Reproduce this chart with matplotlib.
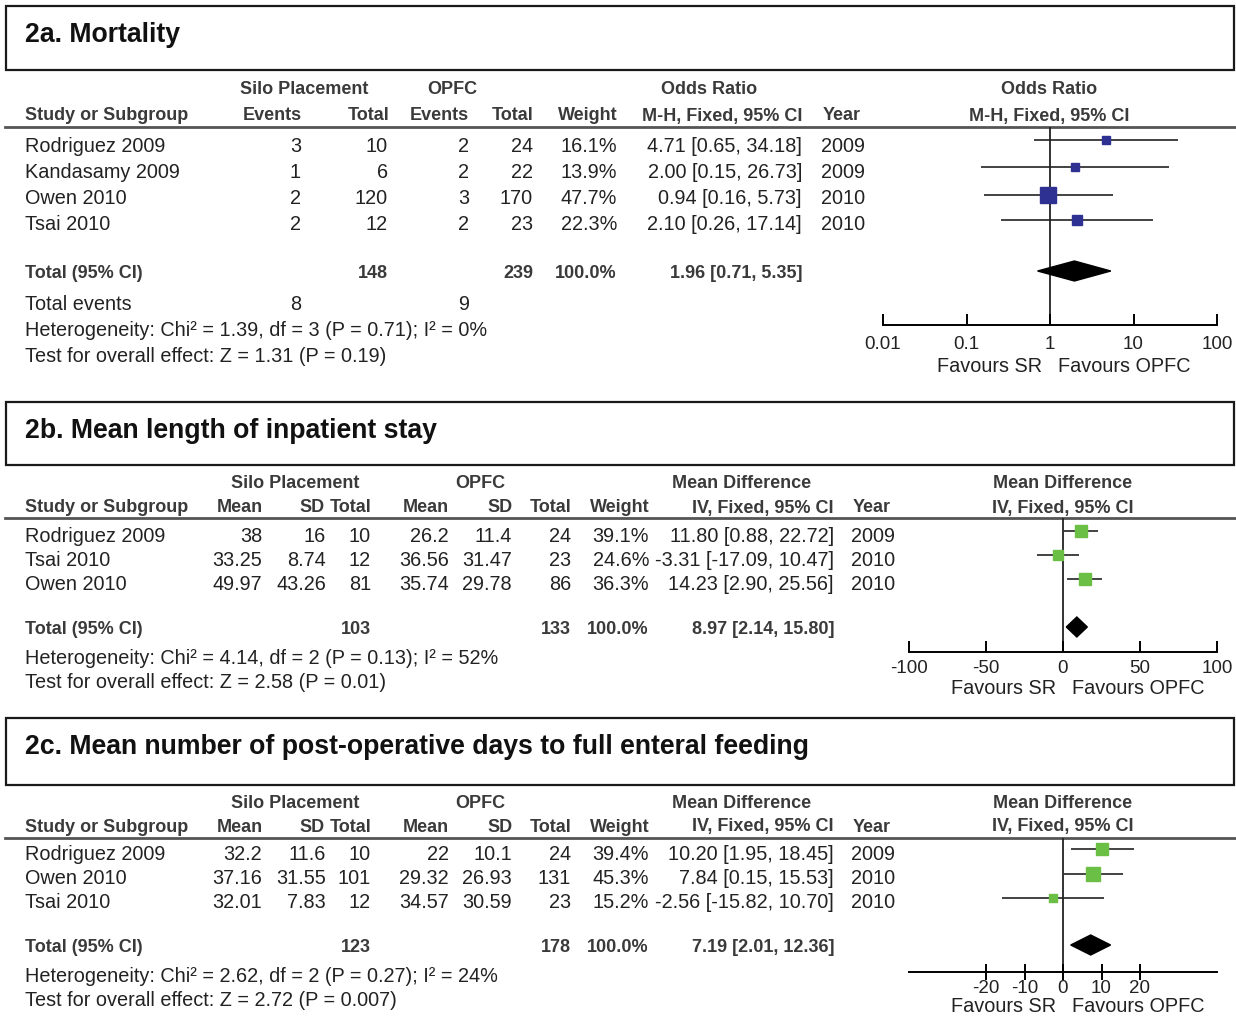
import numpy as np
import matplotlib.pyplot as plt
from matplotlib.font_manager import FontProperties
from matplotlib.textpath import TextToPath
from matplotlib.patches import Rectangle

W, H = 1236, 1030

# ---- 2a. Mortality (odds ratio) ----
mort_studies = ['Rodriguez 2009', 'Kandasamy 2009', 'Owen 2010', 'Tsai 2010']
mort_silo_events = [3, 1, 2, 2]
mort_silo_total = [10, 6, 120, 12]
mort_opfc_events = [2, 2, 3, 2]
mort_opfc_total = [24, 22, 170, 23]
mort_weight = [16.1, 13.9, 47.7, 22.3]
mort_est = [4.71, 2.00, 0.94, 2.10]
mort_lo = [0.65, 0.15, 0.16, 0.26]
mort_hi = [34.18, 26.73, 5.73, 17.14]
mort_year = [2009, 2009, 2010, 2010]
mort_total = [148, 239]
mort_events = [8, 9]
mort_pooled = [1.96, 0.71, 5.35]
mort_het = 'Heterogeneity: Chi² = 1.39, df = 3 (P = 0.71); I² = 0%'
mort_test = 'Test for overall effect: Z = 1.31 (P = 0.19)'

# ---- 2b. Mean length of inpatient stay ----
los_studies = ['Rodriguez 2009', 'Tsai 2010', 'Owen 2010']
los_silo_mean = [38, 33.25, 49.97]
los_silo_sd = [16, 8.74, 43.26]
los_silo_n = [10, 12, 81]
los_opfc_mean = [26.2, 36.56, 35.74]
los_opfc_sd = [11.4, 31.47, 29.78]
los_opfc_n = [24, 23, 86]
los_weight = [39.1, 24.6, 36.3]
los_est = [11.80, -3.31, 14.23]
los_lo = [0.88, -17.09, 2.90]
los_hi = [22.72, 10.47, 25.56]
los_year = [2009, 2010, 2010]
los_total = [103, 133]
los_pooled = [8.97, 2.14, 15.80]
los_het = 'Heterogeneity: Chi² = 4.14, df = 2 (P = 0.13); I² = 52%'
los_test = 'Test for overall effect: Z = 2.58 (P = 0.01)'

# ---- 2c. Days to full enteral feeding ----
feed_studies = ['Rodriguez 2009', 'Owen 2010', 'Tsai 2010']
feed_silo_mean = [32.2, 37.16, 32.01]
feed_silo_sd = [11.6, 31.55, 7.83]
feed_silo_n = [10, 101, 12]
feed_opfc_mean = [22, 29.32, 34.57]
feed_opfc_sd = [10.1, 26.93, 30.59]
feed_opfc_n = [24, 131, 23]
feed_weight = [39.4, 45.3, 15.2]
feed_est = [10.20, 7.84, -2.56]
feed_lo = [1.95, 0.15, -15.82]
feed_hi = [18.45, 15.53, 10.70]
feed_year = [2009, 2010, 2010]
feed_total = [123, 178]
feed_pooled = [7.19, 2.01, 12.36]
feed_het = 'Heterogeneity: Chi² = 2.62, df = 2 (P = 0.27); I² = 24%'
feed_test = 'Test for overall effect: Z = 2.72 (P = 0.007)'

TXT = '#222222'
HDR = '#3a3a3a'
BLUE = '#2e3192'
GREEN = '#6bbf45'
FAM = ['Liberation Sans', 'DejaVu Sans']

# regular text sized so the heterogeneity line matches the reference width
ttp = TextToPath()
w10, _, _ = ttp.get_text_width_height_descent(mort_het, FontProperties(family=FAM, size=10),
                                              ismath=False)
RSIZE = 10 * 462 / (w10 * 100 / 72)
BSIZE = 13

fig = plt.figure(figsize=(W / 100, H / 100), dpi=100)
ax0 = fig.add_axes([0, 0, 1, 1])
ax0.set_xlim(0, W)
ax0.set_ylim(H, 0)
ax0.axis('off')


def t(x, y, s, ha='right', bold=False):
    ax0.text(x, y + 2, s, ha=ha, va='center', family=FAM,
             fontsize=BSIZE if bold else RSIZE,
             fontweight='bold' if bold else 'normal',
             color=HDR if bold else TXT)


def fmt(v):
    return '{:g}'.format(v)


def ci(e, l, h):
    return '{:.2f} [{:.2f}, {:.2f}]'.format(e, l, h)


def title_box(y0, y1, text):
    ax0.add_patch(Rectangle((6, y0), 1228, y1 - y0, fill=False,
                            edgecolor='#1a1a1a', lw=1.6))
    ax0.text(25, y0 + 29, text, ha='left', va='center', fontsize=19.2,
             family=FAM, fontweight='bold', color='#111111')


def forest(x0, x1, y_top, y_axis, xlim, ticks, ticklabels, log,
           est, lo, hi, weight, rows, pooled, y_pool, color, k, tdir, tlen, pad):
    ax = fig.add_axes([x0 / W, 1 - y_axis / H, (x1 - x0) / W, (y_axis - y_top) / H])
    ax.set_facecolor('none')
    if log:
        ax.set_xscale('log')
    ax.set_xlim(*xlim)
    ax.set_ylim(y_axis, y_top)
    for s in ['top', 'left', 'right']:
        ax.spines[s].set_visible(False)
    ax.spines['bottom'].set_linewidth(1.4)
    ax.set_yticks([])
    ax.set_xticks(ticks)
    ax.set_xticklabels(ticklabels, family=FAM, color=TXT)
    ax.minorticks_off()
    ax.tick_params(axis='x', direction=tdir, length=tlen, width=1.4, pad=pad,
                   labelsize=13.5)
    ax.axvline(1 if log else 0, color='#222222', lw=1.3, zorder=1)
    ax.hlines(rows, lo, hi, color='#222222', lw=1.2, zorder=2)
    for e, y, w in zip(est, rows, weight):
        ax.plot(e, y, marker='s', ms=k * np.sqrt(w), color=color, mec=color,
                lw=0, zorder=3)
    pe, pl, ph = pooled
    ax.fill([pl, pe, ph, pe], [y_pool, y_pool - 10, y_pool, y_pool + 10],
            color='black', zorder=3)
    return ax


# ===================== 2a =====================
title_box(6, 70, '2a. Mortality')
t(304, 88, 'Silo Placement', ha='center', bold=True)
t(452, 88, 'OPFC', ha='center', bold=True)
t(709, 88, 'Odds Ratio', ha='center', bold=True)
t(1049, 88, 'Odds Ratio', ha='center', bold=True)
hdr_y = 114
t(25, hdr_y, 'Study or Subgroup', ha='left', bold=True)
t(302, hdr_y, 'Events', bold=True)
t(389, hdr_y, 'Total', bold=True)
t(469, hdr_y, 'Events', bold=True)
t(534, hdr_y, 'Total', bold=True)
t(618, hdr_y, 'Weight', bold=True)
t(802, hdr_y, 'M-H, Fixed, 95% CI', bold=True)
t(823, hdr_y, 'Year', ha='left', bold=True)
t(1049, hdr_y, 'M-H, Fixed, 95% CI', ha='center', bold=True)
ax0.plot([5, W], [127, 127], color='#555555', lw=2)

rows_a = [144, 170, 196, 222]
for i, y in enumerate(rows_a):
    t(25, y, mort_studies[i], ha='left')
    t(301, y, str(mort_silo_events[i]))
    t(388, y, str(mort_silo_total[i]))
    t(469, y, str(mort_opfc_events[i]))
    t(533, y, str(mort_opfc_total[i]))
    t(617, y, '{:.1f}%'.format(mort_weight[i]))
    t(802, y, ci(mort_est[i], mort_lo[i], mort_hi[i]))
    t(821, y, str(mort_year[i]), ha='left')
t(25, 272, 'Total (95% CI)', ha='left', bold=True)
t(388, 272, str(mort_total[0]), bold=True)
t(533, 272, str(mort_total[1]), bold=True)
t(617, 272, '100.0%', bold=True)
t(802, 272, ci(*mort_pooled), bold=True)
t(25, 302, 'Total events', ha='left')
t(301, 302, str(mort_events[0]))
t(469, 302, str(mort_events[1]))
t(25, 329, mort_het, ha='left')
t(25, 355, mort_test, ha='left')

forest(883, 1217, 127, 325, (0.01, 100), [0.01, 0.1, 1, 10, 100],
       ['0.01', '0.1', '1', '10', '100'], True,
       mort_est, mort_lo, mort_hi, mort_weight, [140, 167, 195, 220],
       mort_pooled, 271, BLUE, 1.6, 'in', 8, 8)
t(1042, 364, 'Favours SR')
t(1058, 364, 'Favours OPFC', ha='left')


# ===================== 2b / 2c =====================
def md_panel(y_box, title, y_grp, y_hdr, y_line, rows, y_tot, y_het, y_test,
             studies, sm, ssd, sn, om, osd, on, wt, est, lo, hi, yr, tot,
             pooled, het, test, rows_f, y_pool, y_axis, xlim, ticks, fav_y, k,
             tdir, tlen, pad):
    title_box(y_box[0], y_box[1], title)
    t(295, y_grp, 'Silo Placement', ha='center', bold=True)
    t(480, y_grp, 'OPFC', ha='center', bold=True)
    t(742, y_grp, 'Mean Difference', ha='center', bold=True)
    t(1063, y_grp, 'Mean Difference', ha='center', bold=True)
    t(25, y_hdr, 'Study or Subgroup', ha='left', bold=True)
    t(263, y_hdr, 'Mean', bold=True)
    t(325, y_hdr, 'SD', bold=True)
    t(372, y_hdr, 'Total', bold=True)
    t(449, y_hdr, 'Mean', bold=True)
    t(513, y_hdr, 'SD', bold=True)
    t(572, y_hdr, 'Total', bold=True)
    t(650, y_hdr, 'Weight', bold=True)
    t(834, y_hdr, 'IV, Fixed, 95% CI', bold=True)
    t(853, y_hdr, 'Year', ha='left', bold=True)
    t(1063, y_hdr, 'IV, Fixed, 95% CI', ha='center', bold=True)
    ax0.plot([5, W], [y_line, y_line], color='#555555', lw=2)
    for i, y in enumerate(rows):
        t(25, y, studies[i], ha='left')
        t(262, y, fmt(sm[i]))
        t(326, y, fmt(ssd[i]))
        t(371, y, str(sn[i]))
        t(449, y, fmt(om[i]))
        t(512, y, fmt(osd[i]))
        t(571, y, str(on[i]))
        t(649, y, '{:.1f}%'.format(wt[i]))
        t(834, y, ci(est[i], lo[i], hi[i]))
        t(851, y, str(yr[i]), ha='left')
    t(25, y_tot, 'Total (95% CI)', ha='left', bold=True)
    t(371, y_tot, str(tot[0]), bold=True)
    t(571, y_tot, str(tot[1]), bold=True)
    t(649, y_tot, '100.0%', bold=True)
    t(834, y_tot, ci(*pooled), bold=True)
    t(25, y_het, het, ha='left')
    t(25, y_test, test, ha='left')
    forest(909, 1217, y_line, y_axis, xlim, ticks, [str(v) for v in ticks],
           False, est, lo, hi, wt, rows_f, pooled, y_pool, GREEN, k,
           tdir, tlen, pad)
    t(1056, fav_y, 'Favours SR')
    t(1072, fav_y, 'Favours OPFC', ha='left')


md_panel((402, 465), '2b. Mean length of inpatient stay', 482, 506, 518,
         [534, 558, 582], 628, 656, 680,
         los_studies, los_silo_mean, los_silo_sd, los_silo_n, los_opfc_mean,
         los_opfc_sd, los_opfc_n, los_weight, los_est, los_lo, los_hi, los_year,
         los_total, los_pooled, los_het, los_test,
         [531, 555, 579], 627, 652, (-100, 100), [-100, -50, 0, 50, 100], 687,
         1.35, 'in', 8, 6)

md_panel((718, 785), '2c. Mean number of post-operative days to full enteral feeding',
         801, 825, 838, [852, 877, 901], 946, 974, 999,
         feed_studies, feed_silo_mean, feed_silo_sd, feed_silo_n, feed_opfc_mean,
         feed_opfc_sd, feed_opfc_n, feed_weight, feed_est, feed_lo, feed_hi,
         feed_year, feed_total, feed_pooled, feed_het, feed_test,
         [849, 874, 898], 945, 972, (-40, 40), [-20, -10, 0, 10, 20], 1005,
         1.45, 'inout', 12, 0)

fig.savefig('out.png', dpi=100)
